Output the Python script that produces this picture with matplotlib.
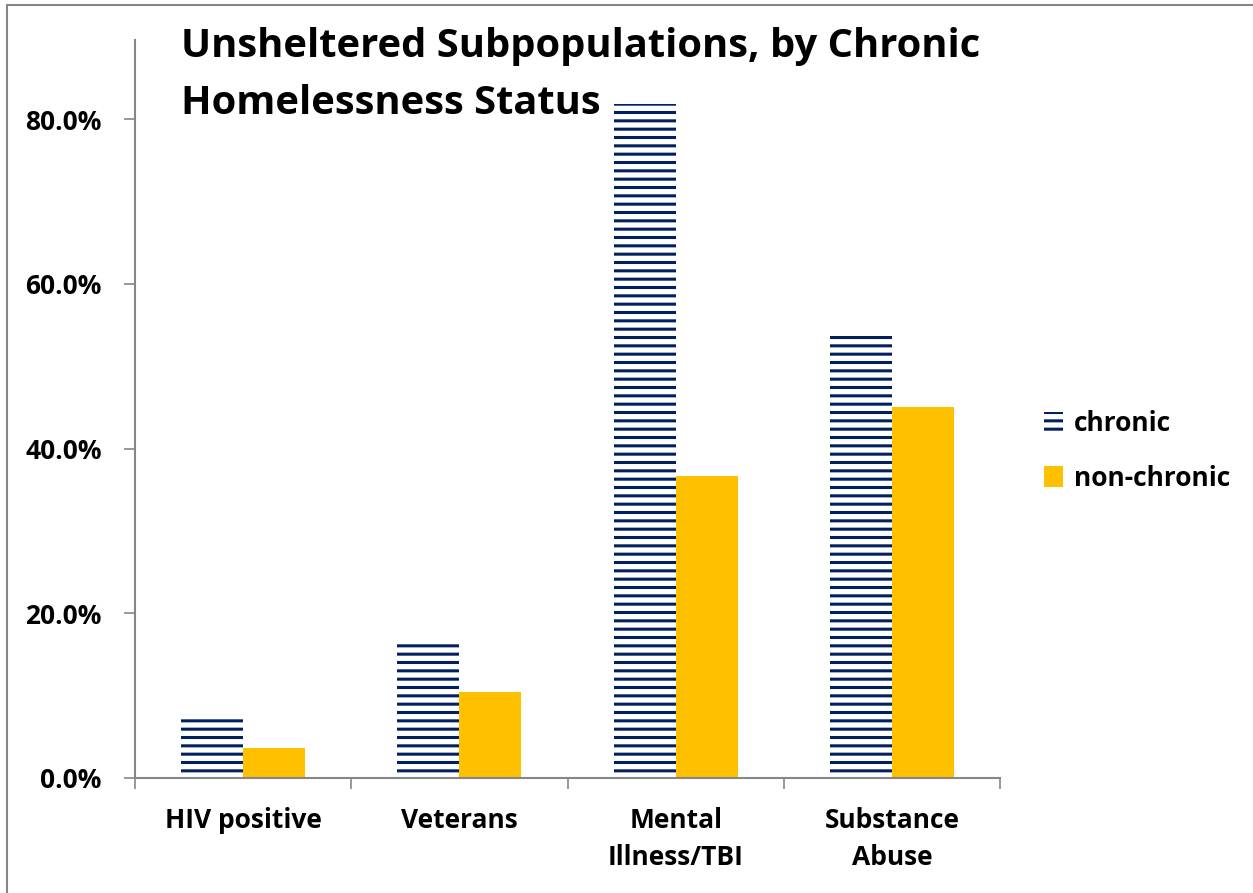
import numpy as np
import matplotlib
matplotlib.use("Agg")
import matplotlib.pyplot as plt
from matplotlib.patches import Rectangle
from matplotlib.ticker import FuncFormatter, FixedLocator

# === DONNÉES ===
categories = ["HIV positive", "Veterans", "Mental\nIllness/TBI", "Substance\nAbuse"]
chronic = [0.078, 0.164, 0.818, 0.537]
non_chronic = [0.036, 0.104, 0.367, 0.450]
series_names = ["chronic", "non-chronic"]

navy = "#002060"
gold = "#FFC000"
axis_gray = "#868686"

plt.rcParams['font.family'] = ['Open Sans', 'DejaVu Sans']
plt.rcParams['hatch.linewidth'] = 2.2

fig = plt.figure(figsize=(12.53, 8.93), dpi=100)
ax = fig.add_axes([135 / 1253, 1 - 778 / 893, 865 / 1253, 738 / 893])

x = np.arange(len(categories))
w = 0.287
ax.bar(x - w / 2, chronic, width=w, color="white", edgecolor=navy,
       hatch="--", linewidth=0, label=series_names[0])
ax.bar(x + w / 2, non_chronic, width=w, color=gold, linewidth=0,
       label=series_names[1])

ax.set_xlim(-0.5, len(categories) - 0.5)
ax.set_ylim(0, 0.896)
ax.set_yticks([0, 0.2, 0.4, 0.6, 0.8])
ax.yaxis.set_major_formatter(FuncFormatter(lambda v, p: f"{v * 100:.1f}%"))
ax.set_xticks(x)
ax.set_xticklabels(categories, fontsize=19, fontweight="bold", linespacing=1.45)
ax.tick_params(axis="x", which="major", length=0, pad=21)
ax.xaxis.set_minor_locator(FixedLocator(np.arange(-0.5, len(categories), 1.0)))
ax.tick_params(axis="x", which="minor", length=8, color=axis_gray, width=1.2)
ax.tick_params(axis="y", length=8, color=axis_gray, width=1.2, labelsize=19, pad=16)
for lab in ax.get_yticklabels():
    lab.set_fontweight("bold")

for s in ["top", "right"]:
    ax.spines[s].set_visible(False)
for s in ["left", "bottom"]:
    ax.spines[s].set_color(axis_gray)
    ax.spines[s].set_linewidth(1.5)

leg = ax.legend(loc="center left", bbox_to_anchor=(1.023, 0.443), frameon=False,
                prop={"size": 19, "weight": "bold"}, handlelength=0.75,
                handleheight=0.85, handletextpad=0.4, labelspacing=1.05)

fig.text(181 / 1253, 1 - 27 / 893, "Unsheltered Subpopulations, by Chronic\nHomelessness Status",
         fontsize=28.7, fontweight="bold", ha="left", va="top", linespacing=1.6)

# cadre autour du graphique
fig.patches.append(Rectangle((7 / 1253, -0.1), 1.2, (1 - 5 / 893) + 0.1,
                             transform=fig.transFigure, fill=False,
                             edgecolor=axis_gray, linewidth=1.5))

fig.savefig("out.png", dpi=100)
